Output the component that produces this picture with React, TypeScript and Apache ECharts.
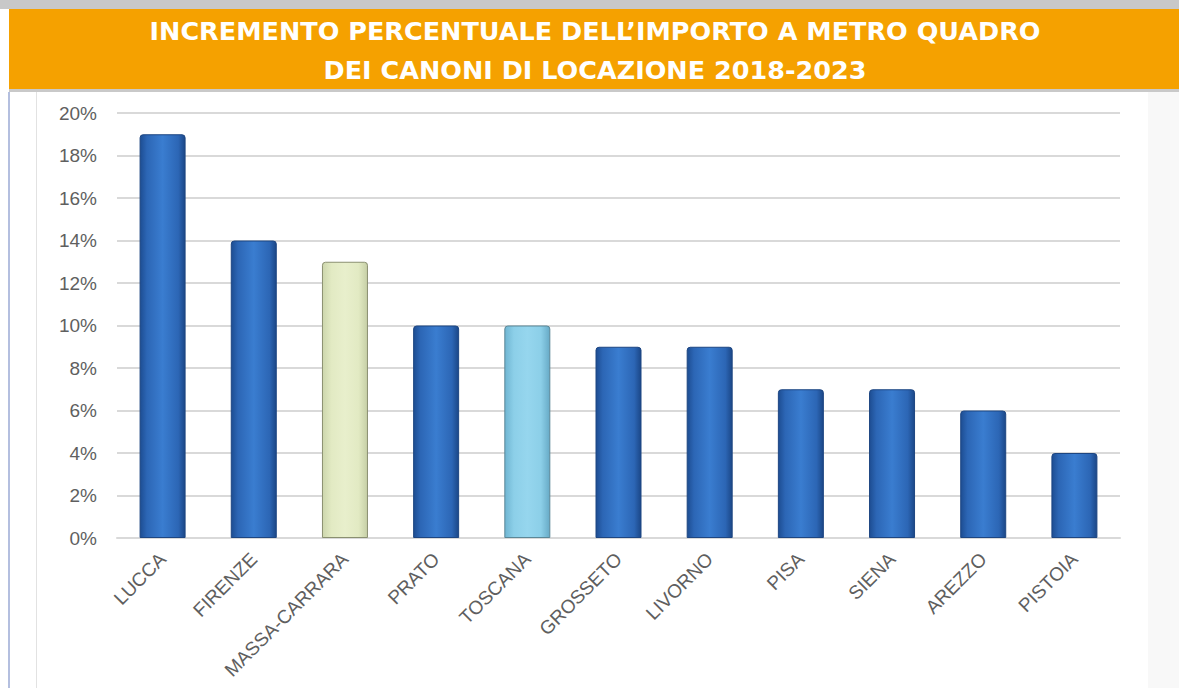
import React, { useEffect, useRef } from "react";
import * as echarts from "echarts";

const titleLines = [
  "INCREMENTO PERCENTUALE DELL\u2019IMPORTO A METRO QUADRO",
  "DEI CANONI DI LOCAZIONE 2018-2023",
];
const categories = [
  "LUCCA",
  "FIRENZE",
  "MASSA-CARRARA",
  "PRATO",
  "TOSCANA",
  "GROSSETO",
  "LIVORNO",
  "PISA",
  "SIENA",
  "AREZZO",
  "PISTOIA",
];
const values = [19, 14, 13, 10, 10, 9, 9, 7, 7, 6, 4];
const yTicks = [0, 2, 4, 6, 8, 10, 12, 14, 16, 18, 20];

const blueStyle = {
  color: new echarts.graphic.LinearGradient(0, 0, 1, 0, [
    { offset: 0, color: "#1d4d92" },
    { offset: 0.15, color: "#2c66b5" },
    { offset: 0.5, color: "#3a7dd0" },
    { offset: 0.85, color: "#2c66b5" },
    { offset: 1, color: "#1b4787" },
  ]),
  borderColor: "#1d4682",
  borderWidth: 1,
  borderRadius: [3, 3, 0, 0],
};
const greenStyle = {
  color: new echarts.graphic.LinearGradient(0, 0, 1, 0, [
    { offset: 0, color: "#cdd6ad" },
    { offset: 0.2, color: "#e2eac3" },
    { offset: 0.5, color: "#e8efcc" },
    { offset: 0.8, color: "#e2eac3" },
    { offset: 1, color: "#c6cfa6" },
  ]),
  borderColor: "#8a9070",
  borderWidth: 1,
  borderRadius: [3, 3, 0, 0],
};
const lightBlueStyle = {
  color: new echarts.graphic.LinearGradient(0, 0, 1, 0, [
    { offset: 0, color: "#6fb5d2" },
    { offset: 0.2, color: "#8ccfe8" },
    { offset: 0.5, color: "#96d6ee" },
    { offset: 0.8, color: "#8ccfe8" },
    { offset: 1, color: "#67aac6" },
  ]),
  borderColor: "#5b8797",
  borderWidth: 1,
  borderRadius: [3, 3, 0, 0],
};

export default function App() {
  const ref = useRef<HTMLDivElement>(null);
  useEffect(() => {
    if (!ref.current) return;
    const chart = echarts.init(ref.current, null, { renderer: "svg" });
    const data = values.map((v, i) => ({
      value: v,
      itemStyle:
        categories[i] === "MASSA-CARRARA"
          ? greenStyle
          : categories[i] === "TOSCANA"
          ? lightBlueStyle
          : blueStyle,
    }));
    chart.setOption({
      animation: false,
      backgroundColor: "#ffffff",
      graphic: [
        { type: "rect", shape: { x: 0, y: 0, width: 1179, height: 9 }, style: { fill: "#c8c8c8" }, z: 0 },
        { type: "rect", shape: { x: 9, y: 9, width: 1170, height: 80 }, style: { fill: "#f5a100" }, z: 0 },
        { type: "rect", shape: { x: 9, y: 89, width: 1170, height: 3 }, style: { fill: "#c9c9c9" }, z: 0 },
        { type: "rect", shape: { x: 8, y: 92, width: 2, height: 596 }, style: { fill: "#b4bfdf" }, z: 0 },
        { type: "rect", shape: { x: 36, y: 92, width: 1, height: 596 }, style: { fill: "#e2e2e2" }, z: 0 },
        { type: "rect", shape: { x: 1148, y: 92, width: 31, height: 596 }, style: { fill: "#f8f8f8" }, z: 0 },
        {
          type: "text",
          x: 595,
          y: 31,
          style: {
            text: titleLines[0],
            fill: "#ffffff",
            font: "bold 25.5px 'DejaVu Sans'",
            textAlign: "center",
            textVerticalAlign: "middle",
          },
          z: 5,
        },
        {
          type: "text",
          x: 595,
          y: 70,
          style: {
            text: titleLines[1],
            fill: "#ffffff",
            font: "bold 25.5px 'DejaVu Sans'",
            textAlign: "center",
            textVerticalAlign: "middle",
          },
          z: 5,
        },
      ],
      grid: { left: 117, right: 59, top: 113, bottom: 150, containLabel: false },
      xAxis: {
        type: "category",
        data: categories,
        axisLine: { show: true, lineStyle: { color: "#d9d9d9", width: 2 } },
        axisTick: { show: false },
        axisLabel: {
          rotate: 45,
          interval: 0,
          margin: 18,
          color: "#5f5f5f",
          fontSize: 19,
          fontFamily: "Liberation Sans",
        },
      },
      yAxis: {
        type: "value",
        min: 0,
        max: 20,
        interval: 2,
        axisLine: { show: false },
        axisTick: { show: false },
        splitLine: { lineStyle: { color: "#d9d9d9", width: 2 } },
        axisLabel: {
          margin: 20,
          color: "#5f5f5f",
          fontSize: 19,
          fontFamily: "Liberation Sans",
          formatter: (v: number) => (yTicks.includes(v) ? v + "%" : ""),
        },
      },
      series: [
        {
          type: "bar",
          data,
          barWidth: 46,
        },
      ],
    });
    return () => chart.dispose();
  }, []);
  return (
    <div
      ref={ref}
      style={{ position: "fixed", left: 0, top: 0, width: 1179, height: 688 }}
    />
  );
}
